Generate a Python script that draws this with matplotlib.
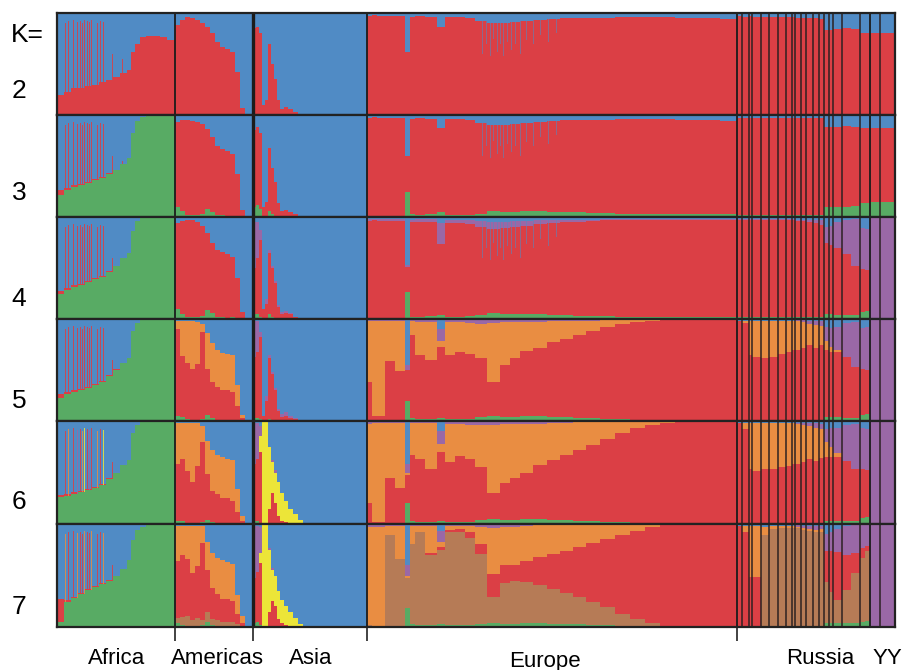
import matplotlib
matplotlib.use("Agg")
import matplotlib.pyplot as plt
import numpy as np

# ---------------- data ----------------
region_names = ["Africa", "Americas", "Asia", "Europe", "Russia", "YY"]
region_sizes = [118, 78, 114, 370, 133, 25]
russia_pops = [5, 7, 3, 9, 8, 9, 8, 6, 3, 6, 5, 7, 6, 5, 5, 4, 9, 18, 10]
yy_pops = [10, 15]
k_values = [2, 3, 4, 5, 6, 7]

# individuals per plotted column, per region
africa_cols = [7, 7, 7, 7, 7, 7, 7, 7, 7, 7, 4, 4, 5, 6, 7, 7, 7, 8]
americas_cols = [5, 5, 5, 5, 5, 5, 5, 5, 5, 5, 5, 5, 5, 5, 8]
asia_cols = [3, 3, 3, 3, 3, 3, 3, 3, 3, 4, 4, 5, 5, 5, 64]
europe_cols = [5, 5, 8, 10, 10, 5, 5, 10, 12, 8, 10, 10, 10, 12, 13, 10, 10, 13, 14,
               13, 13, 13, 14, 15, 15, 15, 15, 15, 15, 15, 15, 17]
russia_cols = [5, 7, 3, 9, 8, 9, 8, 6, 3, 6, 5, 7, 6, 5, 5, 4, 9, 9, 9, 5, 5]
yy_cols = [10, 15]

# ancestry fractions (blue = remainder)
africa_k2 = {"red": [0.20, 0.23, 0.26, 0.26, 0.28, 0.29, 0.32, 0.34, 0.37, 0.41, 0.44, 0.62, 0.70, 0.76, 0.77, 0.77, 0.76, 0.74]}
africa_k3 = {"green": [0.22, 0.26, 0.29, 0.31, 0.33, 0.36, 0.38, 0.42, 0.46, 0.52, 0.58, 0.82, 0.94, 0.98, 1.0, 1.0, 1.0, 1.0],
             "red": [0.04, 0.02, 0.02, 0.01, 0.01, 0.01, 0.01, 0.01, 0, 0, 0, 0, 0, 0, 0, 0, 0, 0]}
africa_k4 = {"green": [0.25, 0.28, 0.31, 0.33, 0.36, 0.39, 0.41, 0.46, 0.52, 0.60, 0.65, 0.86, 0.96, 0.99, 1, 1, 1, 1],
             "red": [0.02, 0.02, 0.02, 0.01, 0.01, 0.01, 0.01, 0.01, 0, 0, 0, 0, 0, 0, 0, 0, 0, 0]}
africa_k5 = {"green": [0.23, 0.26, 0.28, 0.30, 0.32, 0.35, 0.38, 0.44, 0.50, 0.57, 0.62, 0.88, 0.96, 0.99, 1, 1, 1, 1],
             "red": [0.03, 0.02, 0.02, 0.01, 0.01, 0.01, 0.01, 0.01, 0.01, 0, 0, 0, 0, 0, 0, 0, 0, 0]}
africa_k6 = {"green": [0.26, 0.27, 0.29, 0.31, 0.33, 0.35, 0.38, 0.44, 0.50, 0.57, 0.62, 0.88, 0.96, 0.99, 1, 1, 1, 1],
             "red": [0.02, 0.02, 0.02, 0.01, 0.01, 0.01, 0.01, 0.01, 0, 0, 0, 0, 0, 0, 0, 0, 0, 0]}
africa_k7 = {"green": [0.05, 0.24, 0.28, 0.32, 0.36, 0.39, 0.42, 0.45, 0.50, 0.56, 0.65, 0.84, 0.94, 0.97, 0.99, 1, 1, 1],
             "red": [0.22, 0.02, 0.01, 0.01, 0.01, 0.01, 0.01, 0.01, 0, 0, 0, 0, 0, 0, 0, 0, 0, 0]}

# single admixed individuals in Africa (index within Africa) drawn as thin streaks
africa_streak_pos = [8, 11, 16, 20, 23, 25, 27, 30, 32, 34, 40, 43, 46, 55, 65]
africa_streak_top = [0.90, 0.92, 0.93, 0.91, 0.92, 0.90, 0.93, 0.92, 0.91, 0.93, 0.90, 0.92, 0.91, 0.60, 0.55]
africa_streak_k6_colors = ["red", "orange", "red", "purple", "red", "orange", "yellow", "red",
                           "purple", "red", "orange", "red", "yellow", "red", "orange"]

# single individuals in Europe with extra blue ancestry at K=2..4 (index within Europe)
europe_streak_pos = [115, 119, 123, 126, 130, 133, 136, 140, 144, 148, 153, 159, 166, 173, 181, 189]
europe_streak_depth = [0.40, 0.30, 0.42, 0.25, 0.38, 0.30, 0.42, 0.28, 0.36, 0.30, 0.40, 0.26, 0.30, 0.22, 0.28, 0.20]

americas_k2 = {"red": [0.88, 0.93, 0.96, 0.95, 0.93, 0.90, 0.86, 0.80, 0.72, 0.67, 0.65, 0.62, 0.42, 0.07, 0.01]}
americas_k3 = {"green": [0.10, 0.06, 0.02, 0.02, 0.02, 0.03, 0.08, 0.05, 0.02, 0.02, 0.01, 0.01, 0.01, 0, 0],
               "red": [0.83, 0.89, 0.93, 0.92, 0.91, 0.88, 0.78, 0.73, 0.68, 0.65, 0.64, 0.61, 0.41, 0.07, 0.01]}
americas_k4 = {"green": [0.10, 0.05, 0.02, 0.02, 0.02, 0.03, 0.09, 0.06, 0.02, 0.02, 0.01, 0.02, 0.01, 0.01, 0],
               "red": [0.84, 0.91, 0.95, 0.95, 0.93, 0.88, 0.75, 0.69, 0.66, 0.64, 0.63, 0.59, 0.39, 0.06, 0.01]}
americas_k5 = {"green": [0.05, 0.04, 0.02, 0.01, 0.01, 0.02, 0.06, 0.03, 0.01, 0, 0, 0, 0, 0, 0],
               "red": [0.85, 0.60, 0.55, 0.50, 0.55, 0.85, 0.45, 0.35, 0.32, 0.30, 0.30, 0.28, 0.15, 0.03, 0],
               "orange": [0.08, 0.34, 0.41, 0.47, 0.41, 0.08, 0.35, 0.38, 0.37, 0.37, 0.36, 0.37, 0.20, 0.03, 0]}
americas_k6 = {"green": [0.03, 0.03, 0.01, 0.01, 0.01, 0.02, 0.04, 0.02, 0.01, 0, 0, 0, 0, 0, 0],
               "red": [0.55, 0.60, 0.50, 0.40, 0.55, 0.78, 0.45, 0.30, 0.28, 0.25, 0.25, 0.22, 0.12, 0.03, 0],
               "orange": [0.40, 0.35, 0.47, 0.57, 0.42, 0.15, 0.32, 0.40, 0.38, 0.40, 0.38, 0.40, 0.22, 0.05, 0]}
americas_k7 = {"green": [0.04, 0.02, 0.01, 0.01, 0.01, 0.02, 0.05, 0.02, 0.01, 0, 0, 0, 0, 0, 0],
               "brown": [0.05, 0.08, 0.10, 0.06, 0.08, 0.05, 0.10, 0.06, 0.06, 0.05, 0.05, 0.05, 0.03, 0, 0],
               "red": [0.55, 0.60, 0.55, 0.45, 0.50, 0.75, 0.40, 0.30, 0.25, 0.22, 0.22, 0.20, 0.10, 0.04, 0],
               "orange": [0.34, 0.28, 0.32, 0.46, 0.39, 0.16, 0.28, 0.34, 0.35, 0.38, 0.36, 0.36, 0.18, 0.07, 0.01]}

asia_k2 = {"red": [0.85, 0.86, 0.80, 0.10, 0.15, 0.70, 0.50, 0.35, 0.15, 0.06, 0.08, 0.06, 0.03, 0.01, 0]}
asia_k3 = {"green": [0.10, 0.12, 0.08, 0, 0, 0.06, 0.03, 0.01, 0, 0, 0, 0, 0, 0, 0],
           "red": [0.75, 0.76, 0.74, 0.10, 0.15, 0.62, 0.45, 0.33, 0.14, 0.06, 0.07, 0.05, 0.03, 0.01, 0]}
asia_k4 = {"green": [0.05, 0.05, 0.02, 0, 0, 0.05, 0.02, 0, 0, 0, 0, 0, 0, 0, 0],
           "red": [0.45, 0.55, 0.75, 0.10, 0.15, 0.60, 0.48, 0.35, 0.12, 0.05, 0.06, 0.05, 0.02, 0.01, 0],
           "purple": [0.45, 0.35, 0.10, 0, 0.05, 0.03, 0.02, 0.02, 0.02, 0.02, 0.02, 0.01, 0, 0, 0]}
asia_k5 = {"green": [0.03, 0.03, 0.02, 0, 0, 0.02, 0.01, 0, 0, 0, 0, 0, 0, 0, 0],
           "red": [0.60, 0.65, 0.80, 0.05, 0.20, 0.60, 0.45, 0.30, 0.10, 0.04, 0.05, 0.03, 0.02, 0.01, 0],
           "purple": [0.35, 0.30, 0.05, 0, 0.05, 0.03, 0.02, 0.02, 0.02, 0.03, 0.04, 0.02, 0.01, 0, 0]}
asia_k6 = {"green": [0.03, 0.03, 0, 0, 0, 0, 0, 0, 0, 0, 0, 0, 0, 0, 0],
           "red": [0.55, 0.60, 0.70, 0, 0, 0.15, 0.30, 0.20, 0.08, 0.03, 0.02, 0, 0, 0, 0],
           "yellow": [0, 0, 0.15, 1.0, 1.0, 0.60, 0.30, 0.30, 0.33, 0.27, 0.20, 0.15, 0.10, 0.04, 0],
           "purple": [0.40, 0.35, 0.10, 0, 0, 0, 0.02, 0.02, 0, 0, 0, 0, 0, 0, 0]}
asia_k7 = {"green": [0.04, 0.05, 0.02, 0, 0, 0, 0, 0, 0, 0, 0, 0, 0, 0, 0],
           "red": [0.44, 0.48, 0.60, 0, 0, 0.15, 0.25, 0.20, 0.08, 0.04, 0.02, 0, 0, 0, 0],
           "yellow": [0, 0, 0.10, 1.0, 1.0, 0.60, 0.30, 0.30, 0.27, 0.22, 0.18, 0.15, 0.09, 0.03, 0],
           "purple": [0.50, 0.45, 0.25, 0, 0, 0.02, 0.02, 0, 0, 0, 0, 0, 0, 0, 0]}

europe_k2 = {"red": [0.97, 0.98, 0.97, 0.97, 0.97, 0.62, 0.96, 0.97, 0.96, 0.86, 0.96, 0.96, 0.95, 0.92, 0.90, 0.90,
                     0.91, 0.92, 0.93, 0.94, 0.95, 0.95, 0.95, 0.95, 0.96, 0.96, 0.96, 0.96, 0.95, 0.95, 0.95, 0.94]}
europe_k3 = {"green": [0, 0, 0.01, 0.01, 0.01, 0.25, 0.03, 0.02, 0.03, 0.05, 0.02, 0.02, 0.02, 0.03, 0.06, 0.05,
                       0.05, 0.06, 0.06, 0.05, 0.05, 0.05, 0.04, 0.04, 0.03, 0.03, 0.03, 0.03, 0.03, 0.03, 0.03, 0.03],
             "red": [0.97, 0.98, 0.96, 0.96, 0.96, 0.35, 0.93, 0.95, 0.93, 0.82, 0.94, 0.94, 0.93, 0.89, 0.84, 0.85,
                     0.86, 0.86, 0.87, 0.89, 0.90, 0.90, 0.91, 0.91, 0.93, 0.93, 0.93, 0.93, 0.92, 0.92, 0.92, 0.91]}
europe_k4 = {"green": [0, 0, 0.01, 0.01, 0.01, 0.26, 0.02, 0.02, 0.03, 0.04, 0.02, 0.02, 0.03, 0.04, 0.06, 0.05,
                       0.05, 0.05, 0.05, 0.04, 0.04, 0.03, 0.03, 0.03, 0.02, 0.02, 0.02, 0.02, 0.02, 0.02, 0.02, 0.02],
             "red": [0.96, 0.97, 0.95, 0.95, 0.95, 0.25, 0.93, 0.93, 0.92, 0.70, 0.92, 0.92, 0.90, 0.86, 0.82, 0.84,
                     0.85, 0.86, 0.88, 0.90, 0.91, 0.92, 0.93, 0.94, 0.95, 0.95, 0.95, 0.95, 0.95, 0.95, 0.95, 0.95],
             "purple": [0.02, 0.01, 0.02, 0.02, 0.02, 0.02, 0.02, 0.03, 0.03, 0.20, 0.03, 0.03, 0.04, 0.06, 0.07, 0.06,
                        0.06, 0.05, 0.04, 0.03, 0.02, 0.02, 0.01, 0.01, 0.01, 0.01, 0.01, 0.01, 0.01, 0.01, 0.01, 0.01]}
europe_k5 = {"green": [0, 0, 0, 0.01, 0.01, 0.20, 0.03, 0.02, 0.02, 0.03, 0.02, 0.02, 0.02, 0.04, 0.05, 0.04,
                       0.04, 0.05, 0.05, 0.04, 0.04, 0.03, 0.03, 0.02, 0.02, 0.01, 0.01, 0.01, 0.01, 0.01, 0.01, 0.01],
             "red": [0.38, 0.05, 0.05, 0.58, 0.48, 0.30, 0.81, 0.63, 0.58, 0.70, 0.63, 0.66, 0.64, 0.58, 0.33, 0.51,
                     0.58, 0.64, 0.67, 0.73, 0.76, 0.81, 0.85, 0.90, 0.93, 0.96, 0.97, 0.98, 0.98, 0.98, 0.98, 0.98],
             "orange": [0.60, 0.93, 0.93, 0.39, 0.49, 0, 0.14, 0.32, 0.37, 0.05, 0.32, 0.29, 0.30, 0.33, 0.58, 0.42,
                        0.35, 0.28, 0.25, 0.21, 0.18, 0.14, 0.10, 0.07, 0.04, 0.02, 0.01, 0, 0, 0, 0, 0],
             "purple": [0.01, 0.01, 0.01, 0.01, 0.01, 0.05, 0.01, 0.02, 0.02, 0.12, 0.02, 0.02, 0.03, 0.04, 0.03, 0.02,
                        0.02, 0.02, 0.02, 0.01, 0.01, 0.01, 0.01, 0, 0, 0, 0, 0, 0, 0, 0, 0]}
europe_k6 = {"green": [0, 0, 0, 0.01, 0.01, 0.20, 0.03, 0.02, 0.02, 0.03, 0.02, 0.02, 0.02, 0.04, 0.05, 0.04,
                       0.04, 0.05, 0.05, 0.04, 0.04, 0.03, 0.03, 0.02, 0.02, 0.01, 0.01, 0.01, 0.01, 0.01, 0.01, 0.01],
             "red": [0.20, 0.02, 0.02, 0.44, 0.34, 0.28, 0.64, 0.61, 0.51, 0.67, 0.58, 0.64, 0.61, 0.51, 0.25, 0.36,
                     0.41, 0.45, 0.52, 0.58, 0.63, 0.69, 0.74, 0.81, 0.86, 0.92, 0.95, 0.97, 0.98, 0.98, 0.98, 0.98],
             "orange": [0.77, 0.96, 0.96, 0.53, 0.63, 0.02, 0.31, 0.35, 0.45, 0.08, 0.37, 0.31, 0.33, 0.41, 0.66, 0.57,
                        0.52, 0.47, 0.40, 0.36, 0.31, 0.27, 0.22, 0.16, 0.11, 0.06, 0.03, 0.01, 0, 0, 0, 0],
             "purple": [0.02, 0.01, 0.01, 0.01, 0.01, 0.08, 0.01, 0.01, 0.01, 0.12, 0.02, 0.02, 0.03, 0.03, 0.03, 0.02,
                        0.02, 0.02, 0.02, 0.01, 0.01, 0.01, 0, 0, 0, 0, 0, 0, 0, 0, 0, 0]}
europe_k7 = {"green": [0, 0, 0, 0.01, 0.01, 0.18, 0.03, 0.02, 0.02, 0.03, 0.02, 0.02, 0.02, 0.03, 0.04, 0.03,
                       0.03, 0.04, 0.04, 0.03, 0.03, 0.03, 0.02, 0.02, 0.01, 0.01, 0.01, 0, 0, 0, 0, 0],
             "brown": [0.02, 0, 0, 0.88, 0.65, 0.30, 0.78, 0.90, 0.68, 0.72, 0.90, 0.90, 0.84, 0.68, 0.25, 0.40,
                       0.42, 0.40, 0.37, 0.34, 0.30, 0.26, 0.22, 0.17, 0.12, 0.07, 0.03, 0.01, 0, 0, 0, 0],
             "red": [0, 0, 0, 0, 0, 0, 0, 0, 0.02, 0.03, 0.02, 0.03, 0.06, 0.10, 0.22, 0.17,
                     0.15, 0.20, 0.27, 0.34, 0.41, 0.49, 0.58, 0.66, 0.76, 0.85, 0.93, 0.98, 0.99, 0.99, 0.99, 0.99],
             "orange": [0.95, 0.97, 0.97, 0.09, 0.32, 0.02, 0.17, 0.06, 0.26, 0.05, 0.04, 0.03, 0.06, 0.16, 0.45, 0.37,
                        0.37, 0.34, 0.31, 0.28, 0.25, 0.21, 0.17, 0.14, 0.10, 0.06, 0.02, 0.01, 0, 0, 0, 0],
             "purple": [0.02, 0.02, 0.02, 0.01, 0.01, 0.10, 0.01, 0.01, 0.01, 0.10, 0.01, 0.01, 0.01, 0.02, 0.03, 0.02,
                        0.02, 0.01, 0.01, 0.01, 0.01, 0, 0, 0, 0, 0, 0, 0, 0, 0, 0, 0]}

russia_k2 = {"red": [0.97, 0.96, 0.97, 0.96, 0.96, 0.96, 0.96, 0.96, 0.96, 0.95, 0.95, 0.95, 0.95, 0.94,
                     0.83, 0.83, 0.84, 0.85, 0.84, 0.80, 0.80]}
russia_k3 = {"green": [0.02, 0.02, 0.02, 0.02, 0.02, 0.02, 0.02, 0.02, 0.02, 0.02, 0.02, 0.02, 0.02, 0.02,
                       0.10, 0.10, 0.10, 0.10, 0.11, 0.14, 0.14],
             "red": [0.95, 0.95, 0.95, 0.95, 0.95, 0.95, 0.95, 0.95, 0.95, 0.95, 0.95, 0.95, 0.95, 0.95,
                     0.78, 0.78, 0.78, 0.79, 0.77, 0.73, 0.73]}
russia_k4 = {"green": [0.02, 0.02, 0.02, 0.02, 0.02, 0.02, 0.02, 0.02, 0.02, 0.02, 0.02, 0.02, 0.02, 0.02,
                       0.05, 0.05, 0.04, 0.04, 0.04, 0.07, 0.08],
             "red": [0.95, 0.95, 0.95, 0.95, 0.95, 0.95, 0.95, 0.95, 0.95, 0.94, 0.94, 0.93, 0.92, 0.90,
                     0.70, 0.68, 0.66, 0.60, 0.48, 0.42, 0.40],
             "purple": [0.01, 0.01, 0.01, 0.01, 0.01, 0.01, 0.01, 0.01, 0.01, 0.01, 0.01, 0.02, 0.03, 0.05,
                        0.15, 0.18, 0.25, 0.33, 0.46, 0.40, 0.40]}
russia_k5 = {"green": [0.01, 0.01, 0.01, 0.01, 0.01, 0.01, 0.01, 0.01, 0.01, 0.01, 0.01, 0.01, 0.01, 0.01,
                       0.04, 0.04, 0.04, 0.03, 0.03, 0.06, 0.07],
             "red": [0.97, 0.95, 0.64, 0.62, 0.61, 0.62, 0.65, 0.67, 0.69, 0.69, 0.71, 0.74, 0.71, 0.74,
                     0.66, 0.64, 0.64, 0.60, 0.50, 0.45, 0.43],
             "orange": [0, 0.02, 0.33, 0.35, 0.36, 0.35, 0.32, 0.30, 0.28, 0.28, 0.25, 0.20, 0.22, 0.18,
                        0.08, 0.05, 0.02, 0, 0, 0, 0],
             "purple": [0, 0, 0, 0, 0, 0, 0, 0, 0, 0.01, 0.02, 0.03, 0.04, 0.05,
                        0.14, 0.18, 0.22, 0.33, 0.44, 0.40, 0.42]}
russia_k6 = {"green": [0.01, 0.01, 0.01, 0.01, 0.01, 0.01, 0.01, 0.01, 0.01, 0.01, 0.01, 0.01, 0.01, 0.01,
                       0.03, 0.03, 0.03, 0.03, 0.03, 0.06, 0.07],
             "red": [0.97, 0.91, 0.52, 0.50, 0.52, 0.52, 0.54, 0.55, 0.57, 0.57, 0.59, 0.62, 0.60, 0.63,
                     0.62, 0.62, 0.62, 0.58, 0.50, 0.47, 0.45],
             "orange": [0, 0.06, 0.45, 0.47, 0.45, 0.45, 0.43, 0.42, 0.40, 0.39, 0.36, 0.32, 0.32, 0.28,
                        0.15, 0.10, 0.04, 0, 0, 0, 0],
             "purple": [0, 0, 0, 0, 0, 0, 0, 0, 0, 0.01, 0.02, 0.03, 0.05, 0.05,
                        0.12, 0.18, 0.24, 0.35, 0.44, 0.40, 0.40]}
russia_k7 = {"green": [0.01, 0.01, 0.01, 0.01, 0.01, 0.01, 0.01, 0.01, 0.01, 0.01, 0.01, 0.01, 0.01, 0.01,
                       0.04, 0.04, 0.04, 0.04, 0.04, 0.05, 0.06],
             "brown": [0, 0, 0, 0, 0.88, 0.94, 0.95, 0.95, 0.95, 0.95, 0.93, 0.92, 0.91, 0.91,
                       0.40, 0.30, 0.22, 0.32, 0.48, 0.62, 0.68],
             "red": [0.97, 0.91, 0.48, 0.48, 0, 0, 0, 0, 0, 0, 0, 0, 0, 0,
                     0.30, 0.40, 0.47, 0.34, 0.20, 0.10, 0.05],
             "orange": [0, 0.06, 0.49, 0.49, 0.08, 0.03, 0.02, 0.02, 0.02, 0.01, 0.02, 0.02, 0.02, 0.03,
                        0, 0, 0, 0, 0, 0, 0],
             "purple": [0, 0, 0, 0, 0, 0, 0, 0, 0, 0.02, 0.02, 0.03, 0.04, 0.03,
                        0.16, 0.18, 0.22, 0.28, 0.27, 0.22, 0.20]}

yy_k2 = {"red": [0.80, 0.80]}
yy_k3 = {"green": [0.15, 0.15], "red": [0.72, 0.72]}
yy_k4 = {"purple": [1.0, 1.0]}
yy_k5 = {"purple": [1.0, 1.0]}
yy_k6 = {"purple": [1.0, 1.0]}
yy_k7 = {"purple": [1.0, 1.0]}

# ---------------- styling ----------------
layer_order = ["green", "brown", "red", "orange", "yellow", "purple"]
colors = {"green": "#58ab64", "brown": "#b67b56", "red": "#db3f45", "orange": "#e98d42",
          "yellow": "#ece538", "purple": "#9a68a6", "blue": "#508bc5"}
FONT = ["Liberation Sans", "DejaVu Sans"]

region_cols = [africa_cols, americas_cols, asia_cols, europe_cols, russia_cols, yy_cols]
panel_data = {
    2: [africa_k2, americas_k2, asia_k2, europe_k2, russia_k2, yy_k2],
    3: [africa_k3, americas_k3, asia_k3, europe_k3, russia_k3, yy_k3],
    4: [africa_k4, americas_k4, asia_k4, europe_k4, russia_k4, yy_k4],
    5: [africa_k5, americas_k5, asia_k5, europe_k5, russia_k5, yy_k5],
    6: [africa_k6, americas_k6, asia_k6, europe_k6, russia_k6, yy_k6],
    7: [africa_k7, americas_k7, asia_k7, europe_k7, russia_k7, yy_k7],
}

widths = np.concatenate([np.array(c, float) for c in region_cols])
lefts = np.concatenate([[0], np.cumsum(widths)[:-1]])
total = widths.sum()

region_starts = np.concatenate([[0], np.cumsum(region_sizes)[:-1]])
region_bounds = np.cumsum(region_sizes)[:-1]
russia_lines = region_starts[4] + np.cumsum(russia_pops)[:-1]
yy_lines = region_starts[5] + np.cumsum(yy_pops)[:-1]

W, H = 904, 670
fig = plt.figure(figsize=(W / 100, H / 100), dpi=100)
x0, x1 = 57, 895
y_edges = [13, 115, 217, 319, 421, 524, 627]
k_label_y = [91, 193, 299, 401, 502, 607]


def column_of(x):
    return int(np.searchsorted(lefts + widths, x, side="right"))


for i, K in enumerate(k_values):
    top, bot = y_edges[i], y_edges[i + 1]
    ax = fig.add_axes([x0 / W, 1 - bot / H, (x1 - x0) / W, (bot - top) / H])
    ax.set_facecolor(colors["blue"])
    bottom = np.zeros(len(widths))
    base_green = None
    for comp in layer_order:
        vals = np.concatenate([np.array(d.get(comp, [0] * len(c)), float)
                               for d, c in zip(panel_data[K], region_cols)])
        if comp == "green":
            base_green = vals.copy()
        if vals.sum() == 0:
            continue
        ax.bar(lefts, vals, width=widths, bottom=bottom, align="edge",
               color=colors[comp], linewidth=0, antialiased=False)
        bottom = bottom + vals
    blue = np.clip(1 - bottom, 0, 1)
    ax.bar(lefts, blue, width=widths, bottom=bottom, align="edge",
           color=colors["blue"], linewidth=0, antialiased=False)

    # Africa individual streaks
    sx = region_starts[0] + np.array(africa_streak_pos, float)
    sb = np.array([base_green[column_of(x)] for x in sx])
    st = np.array(africa_streak_top)
    if K == 6:
        scol = [colors[c] for c in africa_streak_k6_colors]
    elif K == 7:
        scol = [colors["red"] if j % 3 else colors["orange"] for j in range(len(sx))]
    else:
        scol = colors["red"]
    ax.bar(sx, np.clip(st - sb, 0, 1), width=1.0, bottom=sb, align="edge",
           color=scol, linewidth=0, alpha=0.85)

    # Europe individual streaks (K=2..4)
    if K <= 4:
        ex = region_starts[3] + np.array(europe_streak_pos, float)
        ed = np.array(europe_streak_depth)
        ax.bar(ex, ed, width=1.0, bottom=1 - ed, align="edge",
               color=colors["blue"], linewidth=0, alpha=0.55)

    ax.set_xlim(0, total)
    ax.set_ylim(0, 1)
    for b in region_bounds:
        lw = 2.4 if b == region_bounds[1] else 1.3
        ax.axvline(b, color="#1c1c1c", lw=lw)
    for b in list(russia_lines) + list(yy_lines):
        ax.axvline(b, color="#2a2020", lw=1.2, alpha=0.9)
    for s in ax.spines.values():
        s.set_linewidth(1.6)
        s.set_color("#222222")
    ax.set_yticks([])
    if i < len(k_values) - 1:
        ax.set_xticks([])
    else:
        ax.set_xticks(list(region_bounds[:4]))
        ax.set_xticklabels([])
        ax.tick_params(axis="x", length=10, width=1.2, color="#222222", direction="out")
    fig.text(19 / W, 1 - k_label_y[i] / H, str(K), fontsize=19, family=FONT,
             ha="center", va="center")

fig.text(27 / W, 1 - 35 / H, "K=", fontsize=19, family=FONT, ha="center", va="center")

label_x = [117, 217, 311, 545, 820, 887]
label_y = [659, 659, 659, 661, 659, 659]
for name, lx, ly in zip(region_names, label_x, label_y):
    fig.text(lx / W, 1 - ly / H, name, fontsize=16, family=FONT, ha="center", va="center")

fig.savefig("out.png", dpi=100)
